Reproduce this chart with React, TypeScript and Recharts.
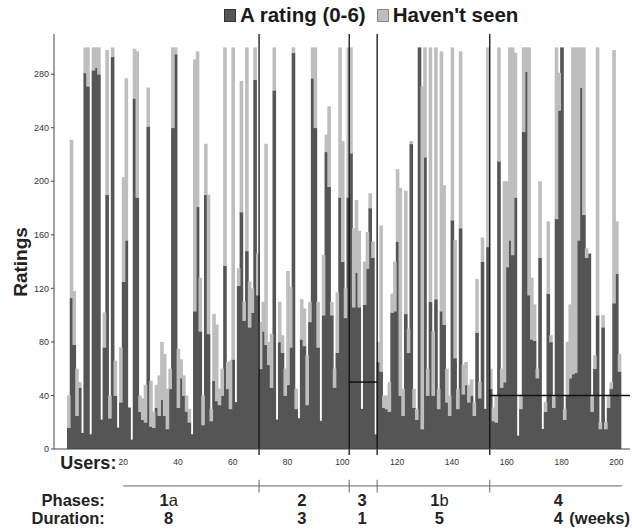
import React from "react";
import { BarChart, Bar, XAxis, YAxis, ReferenceLine, Legend } from "recharts";

// ratings given per user (dark) and "haven't seen" answers (light), users 0..201
const rated = [
  16, 113, 78, 25, 46, 12, 281, 271, 11, 283,
  285, 280, 22, 76, 190, 23, 293, 40, 16, 35,
  125, 156, 31, 7, 262, 188, 28, 22, 20, 241,
  17, 16, 31, 25, 37, 25, 15, 45, 240, 295,
  31, 53, 40, 28, 20, 11, 103, 181, 88, 18,
  190, 86, 21, 51, 36, 33, 40, 137, 45, 30,
  67, 35, 122, 177, 96, 148, 91, 102, 276, 115,
  60, 88, 78, 63, 46, 268, 22, 80, 72, 40,
  48, 76, 296, 30, 23, 82, 77, 33, 95, 277,
  240, 76, 21, 100, 222, 196, 100, 46, 72, 188,
  140, 98, 188, 221, 106, 132, 106, 30, 108, 135,
  180, 143, 11, 65, 58, 31, 30, 28, 102, 103,
  155, 40, 25, 101, 72, 228, 31, 22, 300, 15,
  218, 40, 110, 40, 112, 30, 103, 93, 35, 25,
  171, 68, 30, 165, 41, 48, 35, 40, 25, 87,
  38, 140, 30, 151, 45, 21, 20, 215, 46, 50,
  136, 156, 145, 188, 10, 30, 237, 282, 115, 82,
  81, 53, 143, 15, 28, 116, 80, 31, 172, 253,
  300, 22, 40, 53, 56, 57, 156, 270, 175, 143,
  146, 28, 60, 100, 15, 91, 15, 31, 45, 109,
  131, 58,
];

const unseen = [
  24, 118, 40, 35, 4, 0, 19, 29, 0, 17,
  15, 20, 0, 26, 108, 17, 7, 26, 0, 41,
  78, 121, 0, 0, 37, 109, 12, 16, 28, 29,
  34, 12, 17, 30, 43, 46, 30, 15, 60, 5,
  44, 14, 15, 12, 10, 0, 188, 116, 40, 22,
  38, 104, 9, 50, 57, 12, 20, 163, 20, 36,
  233, 0, 13, 98, 14, 152, 34, 18, 24, 31,
  35, 22, 150, 17, 40, 32, 0, 30, 13, 20,
  85, 45, 4, 15, 0, 30, 28, 37, 15, 23,
  60, 34, 0, 45, 13, 60, 10, 14, 45, 112,
  90, 22, 112, 79, 59, 54, 57, 0, 32, 27,
  11, 12, 0, 15, 109, 9, 10, 22, 14, 37,
  54, 155, 20, 92, 18, 2, 14, 8, 0, 256,
  82, 20, 190, 48, 188, 15, 194, 104, 25, 15,
  129, 88, 15, 132, 22, 17, 13, 12, 10, 40,
  12, 18, 0, 149, 15, 10, 20, 85, 14, 150,
  64, 144, 155, 108, 0, 10, 63, 18, 185, 46,
  27, 7, 57, 0, 7, 54, 5, 9, 128, 28,
  0, 8, 40, 55, 244, 243, 144, 30, 125, 7,
  0, 12, 10, 200, 5, 9, 5, 9, 5, 189,
  39, 13,
];

const userTicks = [0, 20, 40, 60, 80, 100, 120, 140, 160, 180, 200];
const ratingTicks = [0, 40, 80, 120, 160, 200, 240, 280];

const phaseNames = ["1a", "2", "3", "1b", "4"];
const phaseWeeks = ["8", "3", "1", "5", "4"];
const phaseCenters = [40, 86.5, 107.5, 134.5, 176];
const phaseBounds = [69.6, 102.5, 112.7, 153.8];

// minimum rating lines in phases 3 and 4
const thresholdValue = [50, 40];
const thresholdFrom = [102.5, 153.8];
const thresholdTo = [112.7, 205];

const DARK = "#555555";
const LIGHT = "#bebebe";
const AXIS = "#444444";
const FONT = "'Liberation Sans', Arial, Helvetica, sans-serif";
const X_DOMAIN: [number, number] = [-5.24, 204.98];

const data = rated.map((r, i) => ({ user: i, rated: r, unseen: unseen[i] }));

// adjacent bars touch in the original, so overlap them slightly to hide seams
const SolidBar = (p: any) =>
  p.height > 0 ? (
    <rect x={p.x} y={p.y} width={p.width + 0.6} height={p.height + 0.4} fill={p.fill} />
  ) : null;

function UserTick({ x, payload }: any) {
  if (payload.value === 0) {
    return (
      <text x={x - 8} y={469} fontFamily={FONT} fontWeight="bold" fontSize={18} fill="#222">
        Users:
      </text>
    );
  }
  return (
    <text x={x} y={465} textAnchor="middle" fontFamily={FONT} fontSize={8.5} fill="#333">
      {payload.value}
    </text>
  );
}

function PhaseTick({ x, index }: any) {
  if (index === 0) {
    return (
      <g fontFamily={FONT} fontWeight="bold" fontSize={16.5} fill="#222">
        <text x={x} y={506} textAnchor="end">Phases:</text>
        <text x={x} y={524} textAnchor="end">Duration:</text>
      </g>
    );
  }
  const name = phaseNames[index - 1];
  const isLast = index === phaseNames.length;
  return (
    <g fontFamily={FONT} fontSize={16.5} fill="#222">
      <text x={x} y={506} textAnchor="middle">
        <tspan fontWeight="bold">{name[0]}</tspan>
        {name.length > 1 && <tspan fontWeight="normal">{name.slice(1)}</tspan>}
      </text>
      <text x={x} y={524} textAnchor="middle" fontWeight="bold">
        {phaseWeeks[index - 1]}
      </text>
      {isLast && (
        <text x={x + 11} y={524} fontWeight="bold">(weeks)</text>
      )}
    </g>
  );
}

function LegendBox() {
  const item = (color: string, border: string, label: string, gap: number) => (
    <div style={{ display: "flex", alignItems: "center", marginRight: gap }}>
      <div style={{ width: 10, height: 11, background: color, border: `1px solid ${border}`, marginRight: 4 }} />
      <span style={{ fontFamily: FONT, fontWeight: "bold", fontSize: 20.5, color: "#1a1a1a" }}>{label}</span>
    </div>
  );
  return (
    <div style={{ display: "flex", paddingLeft: 224 }}>
      {item(DARK, "#333", "A rating (0-6)", 11)}
      {item(LIGHT, "#888", "Haven't seen", 0)}
    </div>
  );
}

function RatingsLabel() {
  return (
    <text
      x={27}
      y={262}
      transform="rotate(-90 27 262)"
      textAnchor="middle"
      fontFamily={FONT}
      fontWeight="bold"
      fontSize={19}
      fill="#222"
    >
      Ratings
    </text>
  );
}

export default function App() {
  return (
    <div style={{ position: "absolute", left: 0, top: 0, background: "#fff" }}>
      <BarChart
        width={632}
        height={529}
        data={data}
        margin={{ top: 34, right: 2, left: 24, bottom: 0 }}
        barGap={0}
        barCategoryGap={0}
      >
        <XAxis
          dataKey="user"
          type="number"
          domain={X_DOMAIN}
          allowDataOverflow
          ticks={userTicks}
          interval={0}
          height={30}
          tickLine={false}
          axisLine={{ stroke: AXIS }}
          tick={<UserTick />}
        />
        <XAxis
          xAxisId="phase"
          type="number"
          domain={X_DOMAIN}
          allowDataOverflow
          ticks={[17.75, ...phaseCenters]}
          interval={0}
          height={50}
          tickLine={false}
          axisLine={false}
          tick={<PhaseTick />}
        />
        <XAxis
          xAxisId="top"
          orientation="top"
          type="number"
          domain={X_DOMAIN}
          allowDataOverflow
          ticks={userTicks}
          interval={0}
          height={0}
          mirror
          tick={false}
          tickSize={4}
          tickLine={{ stroke: AXIS }}
          axisLine={{ stroke: AXIS }}
        />
        <YAxis
          domain={[0, 310]}
          allowDataOverflow
          ticks={ratingTicks}
          interval={0}
          width={30}
          tickSize={3}
          tickMargin={2}
          tickLine={{ stroke: AXIS }}
          axisLine={{ stroke: AXIS }}
          tick={{ fontSize: 9, fill: "#333", fontFamily: FONT }}
          label={<RatingsLabel />}
        />
        <YAxis
          yAxisId="right"
          orientation="right"
          domain={[0, 310]}
          allowDataOverflow
          ticks={ratingTicks}
          interval={0}
          width={0}
          mirror
          tick={false}
          tickSize={4}
          tickLine={{ stroke: AXIS }}
          axisLine={{ stroke: AXIS }}
        />
        <Legend
          verticalAlign="middle"
          align="center"
          wrapperStyle={{ top: 3, left: 0, width: 632 }}
          content={() => <LegendBox />}
        />
        <Bar dataKey="rated" stackId="a" fill={DARK} shape={SolidBar} isAnimationActive={false} />
        <Bar dataKey="unseen" stackId="a" fill={LIGHT} shape={SolidBar} isAnimationActive={false} />
        {phaseBounds.map((b) => (
          <ReferenceLine
            key={`v${b}`}
            segment={[{ x: b, y: -4.5 }, { x: b, y: 310 }]}
            stroke="#111"
            strokeWidth={1.3}
            ifOverflow="visible"
          />
        ))}
        {thresholdValue.map((v, i) => (
          <ReferenceLine
            key={`h${i}`}
            segment={[{ x: thresholdFrom[i], y: v }, { x: thresholdTo[i], y: v }]}
            stroke="#111"
            strokeWidth={1.5}
            ifOverflow="visible"
          />
        ))}
        <ReferenceLine
          segment={[{ x: 20, y: -27.6 }, { x: 202, y: -27.6 }]}
          stroke="#666"
          ifOverflow="visible"
        />
        {phaseBounds.map((b) => (
          <ReferenceLine
            key={`t${b}`}
            segment={[{ x: b, y: -23 }, { x: b, y: -32.5 }]}
            stroke="#666"
            ifOverflow="visible"
          />
        ))}
      </BarChart>
    </div>
  );
}
